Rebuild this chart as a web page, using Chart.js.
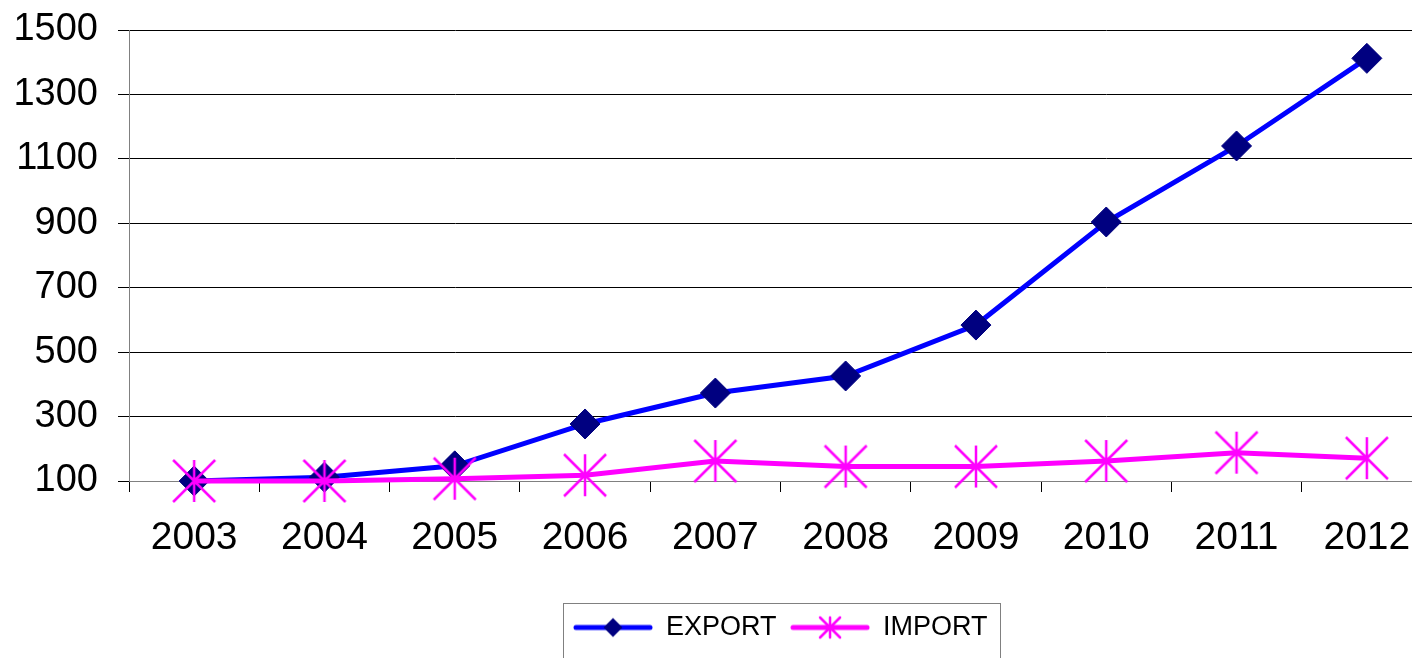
<!DOCTYPE html>
<html>
<head>
<meta charset="utf-8">
<script src="https://cdn.jsdelivr.net/npm/chart.js@4.4.1/dist/chart.umd.min.js"></script>
<style>
html, body { margin: 0; padding: 0; overflow: hidden; background: #fff; }
canvas { display: block; }
</style>
</head>
<body>
<canvas id="tradeChart" width="1458" height="680"></canvas>
<script>
// values
const years = ['2003', '2004', '2005', '2006', '2007', '2008', '2009', '2010', '2011', '2012'];
const exportValues = [100, 112, 147, 277, 373, 426, 584, 904, 1140, 1412];
const importValues = [100, 100, 107, 118, 162, 145, 145, 162, 188, 171];
const yTicks = [100, 300, 500, 700, 900, 1100, 1300, 1500];

const fontFamily = "'Liberation Sans', Arial, sans-serif";

function makeCanvas(w, h, draw) {
    const c = document.createElement('canvas');
    c.width = w;
    c.height = h;
    draw(c.getContext('2d'));
    return c;
}

// Excel style asterisk: vertical stroke plus two diagonals
function drawAsterisk(ctx, cx, cy, r, lw) {
    ctx.strokeStyle = '#FF00FF';
    ctx.lineWidth = lw;
    ctx.beginPath();
    ctx.moveTo(cx, cy - r); ctx.lineTo(cx, cy + r);
    ctx.moveTo(cx - r, cy - r); ctx.lineTo(cx + r, cy + r);
    ctx.moveTo(cx + r, cy - r); ctx.lineTo(cx - r, cy + r);
    ctx.stroke();
}

function drawDiamond(ctx, cx, cy, r) {
    ctx.fillStyle = '#000080';
    ctx.beginPath();
    ctx.moveTo(cx, cy - r); ctx.lineTo(cx + r, cy);
    ctx.lineTo(cx, cy + r); ctx.lineTo(cx - r, cy);
    ctx.closePath();
    ctx.fill();
}

const starMarker = makeCanvas(46, 46, ctx => drawAsterisk(ctx, 23, 23, 21, 2.5));

function legendIcon(lineColor, marker) {
    return makeCanvas(80, 30, ctx => {
        ctx.strokeStyle = lineColor;
        ctx.lineWidth = 5;
        ctx.lineCap = 'round';
        ctx.beginPath();
        ctx.moveTo(3, 15);
        ctx.lineTo(77, 15);
        ctx.stroke();
        marker(ctx);
    });
}

const legendIcons = [
    legendIcon('#0000FF', ctx => drawDiamond(ctx, 40, 15, 9.5)),
    legendIcon('#FF00FF', ctx => drawAsterisk(ctx, 40, 15, 10, 2.5)),
];

// grey frame round the legend items
const legendFrame = {
    id: 'legendFrame',
    afterDraw(chart) {
        const boxes = chart.legend.legendHitBoxes;
        if (!boxes || !boxes.length) return;
        const first = boxes[0];
        const last = boxes[boxes.length - 1];
        const midY = first.top + first.height / 2;
        const left = Math.round(first.left - 10) + 0.5;
        const right = Math.round(last.left + last.width + 12) + 0.5;
        const ctx = chart.ctx;
        ctx.save();
        ctx.strokeStyle = '#808080';
        ctx.lineWidth = 1;
        ctx.strokeRect(left, Math.round(midY - 25) + 0.5, right - left, 80);
        ctx.restore();
    }
};

const ctx = document.getElementById('tradeChart').getContext('2d');

new Chart(ctx, {
    type: 'line',
    data: {
        labels: years,
        datasets: [{
            label: 'EXPORT',
            data: exportValues,
            borderColor: '#0000FF',
            borderWidth: 5,
            pointStyle: 'rectRot',
            pointRadius: 15,
            pointBackgroundColor: '#000080',
            pointBorderColor: '#000080',
            pointBorderWidth: 1,
            tension: 0,
            clip: false,
            order: 1,
        }, {
            label: 'IMPORT',
            data: importValues,
            borderColor: '#FF00FF',
            borderWidth: 5,
            pointStyle: starMarker,
            pointRadius: 21,
            tension: 0,
            clip: false,
            order: 0,
        }],
    },
    options: {
        responsive: false,
        animation: false,
        layout: { padding: { top: 30, right: 7, bottom: 29, left: 0 } },
        plugins: {
            tooltip: { enabled: false },
            legend: {
                position: 'bottom',
                fullSize: false,
                labels: {
                    font: { family: fontFamily, size: 27 },
                    color: '#000',
                    usePointStyle: true,
                    pointStyleWidth: 79,
                    padding: 14,
                    sort: (a, b) => a.datasetIndex - b.datasetIndex,
                    generateLabels(chart) {
                        const items = Chart.defaults.plugins.legend.labels.generateLabels(chart);
                        items.forEach(item => { item.pointStyle = legendIcons[item.datasetIndex]; });
                        return items;
                    },
                },
            },
        },
        scales: {
            x: {
                offset: true,
                grid: { offset: true, drawOnChartArea: false, drawTicks: true, tickLength: 11, color: '#000' },
                border: { color: '#808080', width: 1 },
                ticks: { font: { family: fontFamily, size: 39 }, color: '#000', padding: 23, maxRotation: 0, autoSkip: false },
                afterFit(scale) { scale.height = 119; },
            },
            y: {
                min: 100,
                max: 1500,
                grid: { color: '#000', tickLength: 11 },
                border: { color: '#808080', width: 1 },
                ticks: { font: { family: fontFamily, size: 38 }, color: '#000', padding: 20, callback: v => String(v) },
                afterBuildTicks(scale) { scale.ticks = yTicks.map(v => ({ value: v })); },
                afterFit(scale) {
                    scale.width = 129;
                    scale.paddingTop = 0;
                    scale.paddingBottom = 0;
                },
            },
        },
    },
    plugins: [legendFrame],
});
</script>
</body>
</html>
